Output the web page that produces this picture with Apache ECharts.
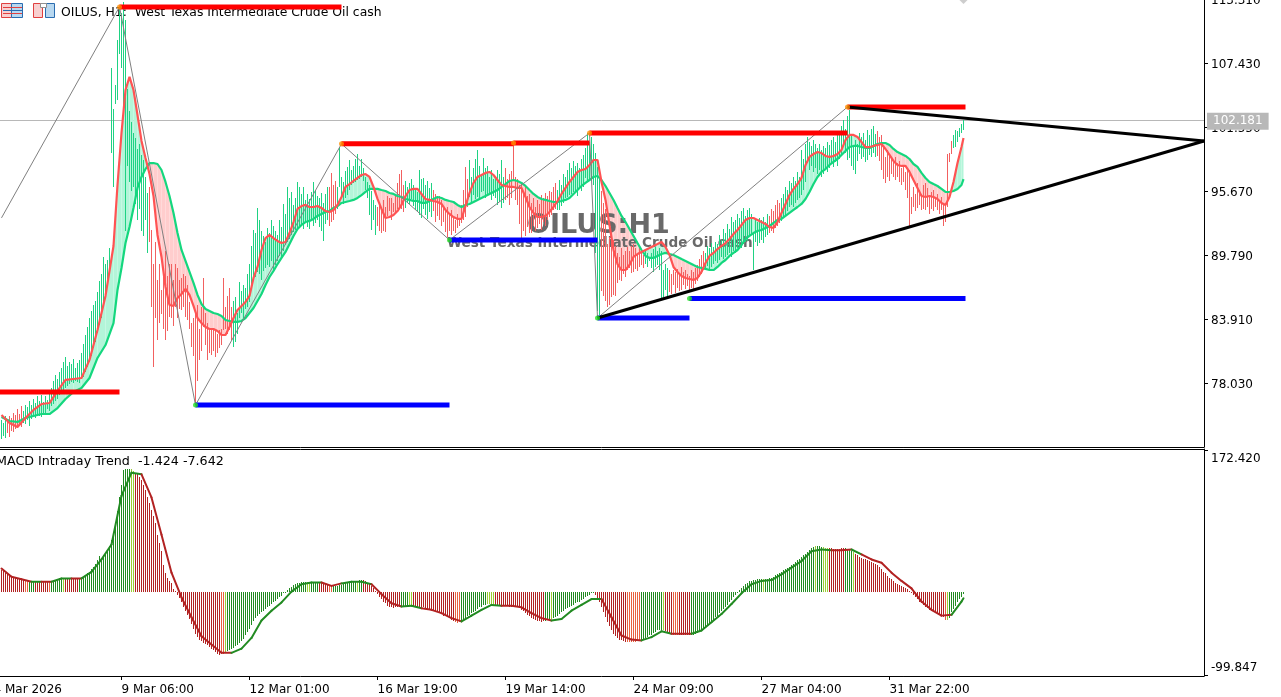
<!DOCTYPE html>
<html><head><meta charset="utf-8"><title>OILUS H1</title>
<style>html,body{margin:0;padding:0;background:#fff}#c{width:1281px;height:697px}</style>
<script src="https://cdn.jsdelivr.net/npm/echarts@6/dist/echarts.min.js"></script></head>
<body><div id="c"></div>
<script>
const priceTicks=[78.03,83.91,89.79,95.67,101.55,107.43,113.31];
const priceLabelAnchors=[77.85,83.73,89.61,95.49,101.37,107.25,113.13];
const macdTicks=[-99.847,172.42];
const macdLabelAnchors=[-91.6,161.5];
const timeTickBars=[-4,60,124,188,252,316,380,444];
const timeTickLabels=['4 Mar 2026','9 Mar 06:00','12 Mar 01:00','16 Mar 19:00','19 Mar 14:00','24 Mar 09:00','27 Mar 04:00','31 Mar 22:00'];
const lastPrice=102.181;
const fastMA=[75.09,74.36,73.99,74.82,75.55,76.10,76.19,77.30,78.31,78.40,78.49,80.15,82.90,86.03,90.62,
96.22,101.00,104.95,106.15,104.95,102.65,100.27,98.70,97.23,95.21,91.63,89.61,86.85,85.20,85.11,85.84,86.21,86.67,86.12,85.11,84.00,83.54,83.18,82.99,82.99,
82.81,82.44,82.44,83.18,84.00,84.74,85.11,85.47,86.03,87.68,88.69,90.25,91.35,91.63,91.35,91.08,90.89,90.99,91.81,92.82,94.02,94.29,94.39,94.20,94.20,
94.29,94.11,93.83,93.74,93.93,94.39,95.12,96.04,96.31,96.59,96.87,97.14,97.23,96.96,96.04,94.94,94.02,93.19,93.28,93.47,93.83,94.39,95.21,95.76,95.86,
95.86,95.40,94.94,94.85,94.75,94.66,94.48,93.93,93.56,93.28,93.10,93.10,94.29,95.49,96.41,96.96,97.14,97.33,97.42,97.14,96.68,96.22,96.13,96.04,96.04,
95.95,95.95,95.12,94.20,93.65,93.28,93.28,93.38,93.74,94.20,94.75,95.40,95.95,96.50,96.96,97.42,97.60,97.69,98.06,98.52,98.52,96.50,94.85,92.55,90.25,
88.96,88.41,88.41,88.87,89.61,89.88,90.07,90.25,90.43,90.62,90.80,90.99,90.53,89.79,88.69,88.23,87.86,87.68,87.59,87.50,87.68,88.23,89.06,89.70,89.98,
90.34,90.62,90.89,91.26,91.72,92.09,92.55,93.01,93.19,93.19,93.01,92.82,92.64,92.36,92.27,92.82,93.65,94.48,95.30,95.86,96.31,96.87,98.06,98.80,99.07,
99.25,99.16,98.89,98.80,98.89,99.07,99.44,100.36,100.82,100.82,100.63,100.17,99.71,99.71,99.81,99.90,99.99,99.53,98.98,98.43,98.06,97.97,97.97,97.42,96.68,
95.95,95.21,95.12,95.21,95.12,94.94,94.57,94.39,95.12,96.50,98.24,99.71,100.54];
const slowMA=[74.91,74.54,74.45,74.82,75.00,75.18,75.18,75.73,76.56,77.20,77.57,78.49,80.33,81.52,83.54,
86.58,88.60,90.89,92.36,94.11,95.95,96.96,97.69,98.24,98.24,98.15,97.60,96.50,95.21,93.65,91.81,90.25,89.24,88.23,87.22,86.12,85.29,84.83,84.65,84.46,
84.37,84.19,83.82,83.73,83.64,83.64,83.73,84.00,84.46,84.92,85.57,86.21,87.04,87.77,88.32,88.96,89.52,90.07,90.80,91.54,92.18,92.55,92.82,92.92,93.10,
93.38,93.56,93.74,93.83,94.11,94.29,94.57,94.66,94.75,94.85,95.03,95.30,95.58,95.86,95.86,95.86,95.76,95.67,95.49,95.40,95.21,95.12,94.94,94.85,94.75,
94.75,94.57,94.57,94.75,94.94,95.12,95.03,94.85,94.75,94.66,94.39,94.20,94.39,94.48,94.66,94.85,95.03,95.21,95.40,95.58,95.76,96.04,96.31,96.59,96.68,
96.59,96.41,96.13,95.76,95.40,95.12,94.94,94.85,94.75,94.66,94.66,94.75,94.85,95.03,95.40,95.76,96.13,96.41,96.68,96.96,97.05,96.68,96.13,95.49,94.85,
94.11,93.38,92.82,92.18,91.54,90.89,90.25,89.70,89.52,89.52,89.70,89.88,89.98,89.88,89.79,89.61,89.42,89.24,89.06,88.87,88.69,88.60,88.51,88.41,88.41,
88.69,89.06,89.33,89.70,89.98,90.25,90.71,91.26,91.54,91.81,92.00,92.09,92.27,92.46,92.73,93.01,93.10,93.38,93.65,93.93,94.20,94.48,94.94,95.58,96.31,
96.96,97.42,97.69,98.06,98.34,98.61,98.98,99.35,99.71,99.81,99.81,99.71,99.62,99.62,99.81,99.99,100.08,100.08,99.90,99.53,99.25,99.07,98.89,98.61,98.15,
97.88,97.33,96.87,96.50,96.31,96.13,95.86,95.58,95.58,95.67,95.86,96.22,96.77];
const barHigh=[74.6,74.4,75.0,74.6,75.0,74.8,75.3,75.1,75.6,75.2,75.9,75.5,76.0,75.8,76.4,76.0,76.6,76.2,76.8,76.4,76.9,76.3,76.8,76.5,77.0,
77.6,78.2,78.8,78.4,79.0,79.4,80.0,80.4,79.6,80.0,79.8,80.2,79.4,79.9,80.1,80.8,81.6,82.4,83.2,84.0,84.6,85.2,85.6,86.4,87.4,
88.0,89.6,89.0,89.3,90.4,107.0,103.2,105.4,109.5,112.4,112.0,113.0,111.4,105.0,103.0,102.0,101.0,100.5,99.5,100.0,99.0,98.5,97.0,95.5,96.0,
92.1,89.0,91.0,87.5,89.0,86.6,88.5,90.2,87.9,89.0,89.0,87.5,89.0,88.6,87.5,87.7,88.0,87.9,87.0,85.5,83.5,84.0,84.7,85.2,83.0,
85.0,87.7,84.5,83.5,82.9,83.0,82.9,83.0,82.5,82.9,83.0,87.7,85.0,86.0,86.8,85.0,85.6,85.9,84.5,87.3,86.5,87.0,86.8,88.0,89.0,
90.6,92.1,91.8,94.1,93.0,92.0,91.5,91.0,92.3,91.8,93.0,92.5,92.0,91.6,93.0,92.4,94.5,93.6,96.0,95.0,95.6,94.4,95.0,96.5,96.0,
95.4,96.0,94.8,95.4,94.9,95.6,96.5,95.8,95.2,95.0,95.5,94.6,95.4,96.0,96.0,97.3,96.2,96.6,96.0,99.7,97.0,96.5,97.5,97.9,98.5,
97.6,98.0,98.6,99.1,98.0,98.6,97.8,97.0,96.5,96.2,95.7,94.8,94.4,94.2,94.6,94.0,94.8,94.2,95.2,95.0,95.0,94.6,95.2,96.4,97.2,
97.6,96.2,96.6,96.0,96.4,96.8,96.2,95.8,95.6,97.6,96.8,96.9,96.2,96.6,95.9,96.4,95.8,95.4,95.0,95.2,94.8,94.2,93.8,94.2,93.6,
93.9,93.4,93.0,93.6,93.2,94.4,95.8,97.9,96.8,98.5,97.0,97.8,98.6,99.4,98.0,97.2,98.7,97.8,98.0,97.0,97.6,96.8,97.0,97.6,97.2,
98.5,97.0,97.8,96.8,97.2,97.5,100.1,97.0,96.8,96.2,96.4,95.6,96.0,95.2,95.4,94.6,95.0,94.2,94.8,94.5,95.3,95.0,95.5,95.2,95.7,
95.6,96.0,96.4,95.8,96.7,96.2,97.2,97.0,97.6,98.2,97.8,98.4,98.0,98.2,97.8,98.6,99.0,99.6,101.0,100.2,100.6,100.0,99.2,97.9,97.0,
95.7,94.6,94.0,90.8,91.4,91.0,91.2,90.6,90.0,89.6,90.4,89.8,90.2,90.5,90.2,90.6,90.8,90.4,90.0,90.6,90.2,89.8,90.3,90.0,89.6,
90.0,90.3,90.5,90.2,90.4,90.2,88.4,89.0,88.6,88.4,88.0,88.4,88.2,88.5,88.0,88.7,88.2,88.4,88.0,87.9,88.4,88.2,88.6,88.9,89.4,
89.8,90.2,90.0,90.6,90.4,90.9,90.5,91.0,90.8,91.6,91.2,92.2,91.8,92.6,92.2,93.3,92.8,93.0,93.6,93.2,93.8,94.1,93.4,93.9,94.1,
93.6,91.8,93.0,92.8,93.2,93.0,93.3,92.8,93.6,93.4,94.0,93.8,94.4,94.8,94.6,95.0,95.4,96.0,95.8,96.6,96.4,97.0,96.6,97.4,97.0,
99.4,98.6,100.0,100.6,100.2,99.8,100.4,100.0,99.6,100.0,99.4,99.8,99.6,100.2,99.9,100.4,100.6,100.2,100.8,101.2,101.6,102.2,101.4,102.6,103.1,
100.8,99.7,100.4,100.0,101.0,100.6,101.0,100.4,101.3,100.8,101.4,101.6,100.9,101.2,100.6,100.8,99.8,98.8,99.4,99.0,98.6,98.5,98.8,98.2,98.4,
97.8,98.0,97.4,97.6,97.6,95.1,96.0,95.4,96.4,95.8,95.4,96.2,96.4,95.9,95.2,95.6,95.8,95.1,95.4,94.8,95.1,94.4,94.6,99.1,99.2,
100.3,100.8,101.3,101.2,101.5,101.8,102.2];
const barLow=[72.9,73.2,73.0,73.4,73.1,73.6,73.5,73.8,73.9,74.2,74.0,74.4,74.3,74.6,74.1,74.7,75.0,74.8,75.2,75.0,74.9,75.3,75.2,75.6,75.5,
75.9,76.1,76.4,76.6,76.9,77.1,77.3,77.6,77.8,77.9,78.1,78.0,78.2,78.1,78.0,78.4,78.6,79.0,79.5,80.0,80.5,81.2,81.8,82.6,83.4,
84.0,85.0,86.0,87.0,88.0,99.2,96.0,103.7,104.0,108.3,107.0,103.0,92.0,98.0,96.5,95.7,96.0,94.5,93.0,94.0,92.0,91.5,93.0,90.0,91.0,
85.0,79.5,84.0,82.0,83.5,84.4,83.0,82.0,82.8,84.1,84.0,83.3,85.0,84.0,84.8,84.7,85.0,84.1,83.8,83.0,81.3,80.5,76.2,78.2,80.1,
81.0,83.2,81.5,80.1,80.8,80.6,81.0,80.4,80.8,81.2,81.5,82.9,83.0,82.5,82.9,82.0,81.3,81.8,82.5,84.0,84.5,84.0,84.8,85.0,85.5,
87.0,87.4,87.8,88.2,88.0,87.5,88.3,88.6,88.9,88.7,89.2,88.4,88.9,89.2,89.7,89.4,90.2,90.7,91.0,91.3,91.6,91.9,92.1,92.3,92.5,
92.6,92.2,92.8,92.4,92.2,92.9,92.5,92.7,93.0,92.4,92.0,91.1,92.6,93.0,92.5,92.8,93.0,93.6,94.0,96.0,95.0,94.5,95.0,95.3,95.8,
96.2,96.4,96.5,96.7,96.8,97.0,96.6,95.8,95.0,93.5,92.1,93.0,91.6,92.5,92.0,91.8,92.0,91.9,93.4,93.8,93.0,93.7,93.6,94.0,94.2,
94.0,93.7,94.1,94.6,94.5,94.9,94.3,93.9,93.8,93.5,93.2,94.0,93.5,93.1,93.7,93.3,93.8,92.8,93.4,93.0,92.5,92.8,91.9,91.4,92.0,
91.6,92.0,91.8,92.3,92.5,92.7,93.0,93.3,94.2,95.1,94.6,95.3,94.9,95.1,95.0,95.6,95.7,95.0,95.3,95.5,94.8,95.2,95.0,94.4,94.7,
94.1,94.6,94.8,95.0,94.4,95.0,96.6,94.8,94.4,92.6,91.1,92.0,91.5,92.4,91.8,91.8,92.5,92.0,92.3,92.6,92.1,92.8,92.5,93.0,93.3,
93.5,93.9,94.0,93.9,93.9,94.3,94.6,95.0,95.1,95.3,95.4,95.6,95.5,95.2,95.9,95.7,96.0,96.9,96.5,96.8,96.6,96.2,90.0,84.6,84.3,
86.5,86.0,85.6,85.0,85.2,85.9,86.1,86.0,87.2,87.5,87.4,88.0,87.8,88.4,88.6,88.1,88.2,88.5,88.3,88.7,88.9,88.6,89.0,88.7,89.2,
88.6,88.2,88.7,88.9,88.4,85.8,85.9,86.6,86.0,86.4,86.2,87.0,86.3,86.8,86.5,86.6,87.0,86.7,86.9,86.6,86.8,86.6,87.1,87.4,87.8,
88.0,88.4,88.6,88.8,88.5,88.7,89.0,89.2,89.1,89.3,89.6,89.4,89.6,89.8,90.0,89.6,90.2,90.0,90.4,90.6,90.4,90.8,91.0,91.1,91.4,
91.6,88.4,91.0,90.6,90.9,91.2,90.9,91.4,91.6,91.8,92.0,91.8,92.3,92.5,92.7,92.9,93.2,93.5,93.8,94.2,94.4,94.2,94.6,94.8,95.0,
95.3,95.8,96.5,98.2,97.6,98.0,97.4,97.8,97.2,97.6,97.0,97.2,97.6,97.4,97.8,98.2,97.9,98.3,98.0,98.6,99.0,99.7,99.2,98.5,98.7,
98.0,97.6,97.2,98.4,99.1,98.6,98.8,98.3,98.5,99.0,98.8,99.2,98.8,98.9,98.4,97.6,96.8,96.4,97.0,96.6,97.2,97.0,96.7,97.0,96.5,
96.2,96.5,95.8,95.0,92.5,93.6,94.2,93.8,94.1,94.4,93.9,94.0,93.9,94.2,93.6,94.0,93.8,94.2,93.9,93.6,93.9,92.5,92.8,94.2,98.3,
99.1,99.6,99.7,100.2,100.6,101.0,101.3];
const macdHist=[27,26,24,23,22,20,19,18,17,16,16,15,15,14,14,14,13,13,13,14,14,14,13,13,13,
14,14,15,16,17,18,18,18,17,17,17,17,17,17,17,18,19,21,23,25,28,31,35,39,44,
42,45,48,52,56,63,72,85,98,115,130,148,149,149,149,149,147,145,143,140,136,130,124,116,108,
100,92,84,70,60,50,33,24,18,14,11,4,2,-3,-7,-12,-17,-22,-27,-32,-38,-44,-50,-54,-57,
-59,-61,-62,-64,-66,-68,-70,-72,-75,-76,-75,-74,-72,-71,-70,-68,-67,-65,-63,-61,-59,-56,-52,-48,-44,
-39,-35,-31,-28,-26,-24,-22,-20,-18,-16,-14,-12,-10,-8,-6,-4,-1,1,3,5,7,9,10,11,12,
13,13,13,13,13,13,13,13,12,12,12,12,11,10,9,9,8,8,8,9,9,10,11,11,12,
13,13,14,14,15,15,15,14,12,10,8,5,2,-2,-5,-8,-11,-13,-16,-17,-18,-19,-18,-18,-17,
-17,-16,-16,-16,-16,-16,-16,-16,-17,-17,-18,-18,-19,-20,-20,-21,-21,-22,-23,-24,-26,-28,-29,-30,-31,
-33,-34,-36,-37,-36,-35,-33,-31,-29,-27,-25,-24,-22,-20,-18,-17,-15,-15,-14,-14,-15,-15,-15,-16,-16,
-16,-16,-16,-16,-17,-17,-17,-18,-18,-19,-21,-23,-25,-27,-29,-31,-32,-33,-34,-35,-36,-35,-34,-33,-33,
-32,-31,-30,-28,-26,-24,-22,-20,-19,-17,-16,-15,-13,-12,-11,-9,-8,-6,-4,-3,-1,-1,-3,-7,-12,
-18,-24,-30,-36,-41,-46,-50,-53,-55,-57,-58,-59,-60,-60,-60,-60,-60,-60,-59,-58,-57,-56,-55,-54,-52,
-51,-49,-48,-46,-45,-45,-46,-47,-48,-49,-50,-51,-52,-52,-52,-52,-52,-52,-52,-52,-52,-51,-50,-49,-48,
-46,-44,-42,-40,-37,-35,-33,-30,-28,-25,-23,-20,-17,-15,-12,-9,-6,-3,0,3,6,8,10,12,14,
14,15,15,16,16,16,16,16,16,17,18,19,21,22,23,25,27,28,30,31,33,35,37,39,41,
43,45,47,49,52,54,55,56,56,56,55,55,54,54,54,54,53,53,53,53,54,54,54,53,52,
50,49,47,45,43,42,41,40,39,38,37,36,35,33,31,28,25,23,20,18,16,14,12,10,9,
8,7,6,4,2,0,-3,-5,-8,-11,-13,-15,-17,-19,-21,-22,-24,-25,-26,-27,-28,-30,-33,-33,-31,
-24,-20,-16,-12,-8,-5,-2];
const macdLine=[29,19,16,13,13,13,17,17,17,25,40,58,117,145,143,115,70,24,-6,-30,
-53,-63,-73,-73,-68,-55,-34,-22,-12,1,10,12,12,8,11,13,13,10,-2,-13,
-17,-16,-19,-21,-25,-31,-35,-28,-21,-15,-16,-16,-18,-25,-31,-34,-32,-22,-15,-8,
-8,-30,-52,-57,-58,-54,-47,-50,-50,-50,-46,-36,-26,-14,-1,10,14,15,22,30,
38,50,52,51,51,52,46,40,36,24,14,5,-11,-21,-28,-27,-11,-7];
const histRunStart=[0,12,14,17,24,25,31,32,39,65,67,110,112,113,153,155,159,164,166,178,179,181,200,204,206,227,230,243,247,272,275,276,297,313,320,331,332,336,339,345,381,382,407,408,411,414,422,426,427,472,473,474];
const histRunKind='RSGRSGYRGYRSYGYGRSGYGRGYRSGYRGYGRSGYRSRGYGYGYRGYRSYG'.split('');
const zigzagBars=[0,59,97,170,224,294,298,423];
const zigzagPrices=[93.2,112.6,76.0,100.0,91.17,101.0,84.0,103.39];
const resistance=[[-4,59,77.2],[59,170,112.58],[170,256,100.0],[256,294,100.08],[294,423,101.0],[423,482,103.39]];
const support=[[97,224,76.0],[224,298,91.17],[298,344,84.0],[344,482,85.8]];
const trendLines=[[423,103.39,601.25,100.26],[298,84.0,601.25,100.26]];
const peakDots=[[59,112.58],[170,100.0],[256,100.08],[294,101.0],[423,103.39]];
const troughDots=[[97,76.0],[224,91.17],[298,84.0],[344,85.8]];

const FONT='"DejaVu Sans"';
const maBars=[];for(let b=0;b<56;b+=4)maBars.push(b);for(let b=56;b<=480;b+=2)maBars.push(b);maBars.push(481);
const macdBars=[];for(let b=0;b<=480;b+=5)macdBars.push(b);macdBars.push(481);
const histPalette={R:'#b22222',S:'#e9603f',G:'#228b22',Y:'#9acd32'};
const kindAt=b=>{let k='R';for(let i=0;i<histRunStart.length;i++){if(histRunStart[i]<=b)k=histRunKind[i];else break;}return k;};
const lineColor=b=>{const k=kindAt(b);return (k==='G'||k==='Y')?'#228b22':'#b22222';};
const GREEN='#14d77e',RED='#ff5353',STICK_G='#1fd283',STICK_R='#f26060',FILL_G='#b3f5d9',FILL_R='#ffcdcd';
const upAt=b=>{let best=0,d=1e9;maBars.forEach((m,i)=>{const e=Math.abs(m-b);if(e<d){d=e;best=i;}});return fastMA[best]>=slowMA[best];};

const chart=echarts.init(document.getElementById('c'),null,{renderer:'canvas',width:1281,height:697});
const hLine=(seg,color,w,z)=>({type:'line',xAxisIndex:0,yAxisIndex:0,data:[[seg[0],seg[2]],[seg[1],seg[2]]],showSymbol:false,silent:true,animation:false,z,lineStyle:{color,width:w,cap:'butt'}});
const poly=(api,pts,color)=>({type:'polygon',shape:{points:pts},style:{fill:color},silent:true});
const stick=(x,y1,y2,color)=>{const cx=Math.round(x-0.5)+0.5,top=Math.round(Math.min(y1,y2)),bot=Math.round(Math.max(y1,y2));
 return {type:'line',shape:{x1:cx,y1:top,x2:cx,y2:Math.max(bot,top+1)},style:{stroke:color,fill:null,lineWidth:1,lineCap:'butt'},silent:true};};
const series=[
{type:'custom',xAxisIndex:0,yAxisIndex:0,z:2,silent:true,animation:false,clip:true,data:maBars.slice(0,-1).map((b,i)=>[b,i]),
 renderItem(p,api){const k=api.value(1);const b0=maBars[k],b1=maBars[k+1];const f0=fastMA[k],f1=fastMA[k+1],s0=slowMA[k],s1=slowMA[k+1];
  const c=(b,v)=>api.coord([b,v]);const d0=f0-s0,d1=f1-s1;const col=d=>d>=0?FILL_G:FILL_R;
  if(d0*d1>=0)return poly(api,[c(b0,f0),c(b1,f1),c(b1,s1),c(b0,s0)],col(d0+d1));
  const t=d0/(d0-d1),bx=b0+t*(b1-b0),vx=f0+t*(f1-f0);
  return {type:'group',children:[poly(api,[c(b0,f0),c(bx,vx),c(b0,s0)],col(d0)),poly(api,[c(bx,vx),c(b1,f1),c(b1,s1)],col(d1))]};}},
{type:'custom',xAxisIndex:0,yAxisIndex:0,z:3,silent:true,animation:false,data:barHigh.map((h,i)=>[i,h,barLow[i]]),
 renderItem(p,api){const a=api.coord([api.value(0),api.value(1)]),b=api.coord([api.value(0),api.value(2)]);
  return stick(a[0],a[1],b[1],upAt(api.value(0))?STICK_G:STICK_R);}},
{type:'line',xAxisIndex:0,yAxisIndex:0,z:4,data:maBars.map((b,i)=>[b,slowMA[i]]),showSymbol:false,silent:true,animation:false,lineStyle:{color:GREEN,width:2.2}},
{type:'line',xAxisIndex:0,yAxisIndex:0,z:5,data:maBars.map((b,i)=>[b,fastMA[i]]),showSymbol:false,silent:true,animation:false,lineStyle:{color:RED,width:2.2}},
{type:'line',xAxisIndex:0,yAxisIndex:0,z:6,data:zigzagBars.map((b,i)=>[b,zigzagPrices[i]]),showSymbol:false,silent:true,animation:false,lineStyle:{color:'#808080',width:1},
 markLine:{silent:true,symbol:'none',animation:false,z:1,lineStyle:{color:'#b8b8b8',width:1,type:'solid'},data:[{yAxis:lastPrice}],
  label:{position:'end',formatter:()=>lastPrice.toFixed(3),distance:3,offset:[0,1],color:'#fff',backgroundColor:'#b8b8b8',padding:[3,6,2,6],fontFamily:FONT,fontSize:12}}},
...resistance.map(s=>hLine(s,'#ff0000',5,7)),
...support.map(s=>hLine(s,'#0000ff',5,7)),
...trendLines.map(t=>({type:'line',xAxisIndex:0,yAxisIndex:0,z:8,data:[[t[0],t[1]],[t[2],t[3]]],showSymbol:false,silent:true,animation:false,lineStyle:{color:'#000',width:3}})),
{type:'scatter',xAxisIndex:0,yAxisIndex:0,z:9,data:peakDots,symbol:'circle',symbolSize:5,silent:true,animation:false,itemStyle:{color:'#ff8c00'}},
{type:'scatter',xAxisIndex:0,yAxisIndex:0,z:9,data:troughDots,symbol:'circle',symbolSize:5,silent:true,animation:false,itemStyle:{color:'#22dd22'}},
{type:'scatter',xAxisIndex:0,yAxisIndex:0,z:9,data:[[481,113.31]],symbol:'diamond',symbolSize:10,silent:true,animation:false,itemStyle:{color:'#c0c0c0'}},
{type:'custom',xAxisIndex:1,yAxisIndex:1,z:3,silent:true,animation:false,data:macdHist.map((v,i)=>[i,v]),
 renderItem(p,api){const i=api.value(0);const a=api.coord([i,0]),b=api.coord([i,api.value(1)]);
  return stick(a[0],a[1],b[1],histPalette[kindAt(i)]);}},
{type:'custom',xAxisIndex:1,yAxisIndex:1,z:4,silent:true,animation:false,data:macdBars.slice(0,-1).map((b,i)=>[b,i]),
 renderItem(p,api){const k=api.value(1);const a=api.coord([macdBars[k],macdLine[k]]),b=api.coord([macdBars[k+1],macdLine[k+1]]);
  return {type:'line',shape:{x1:a[0],y1:a[1],x2:b[0],y2:b[1]},style:{stroke:lineColor(macdBars[k]),lineWidth:2,lineCap:'round'},silent:true};}}
];
const axisLine={show:true,onZero:false,lineStyle:{color:'#000',width:1}};
const tickText={color:'#000',fontFamily:FONT,fontSize:12};
chart.setOption({
 animation:false,backgroundColor:'#fff',
 grid:[{left:-8,top:-1,width:1212,height:448,containLabel:false,outerBoundsMode:'none'},{left:-8,top:449,width:1212,height:227,containLabel:false,outerBoundsMode:'none'}],
 xAxis:[
  {type:'value',gridIndex:0,min:-4.75,max:601.25,position:'bottom',axisLine,axisTick:{show:false},axisLabel:{show:false},splitLine:{show:false}},
  {type:'value',gridIndex:1,min:-4.75,max:601.25,position:'bottom',axisLine,splitLine:{show:false},
   axisTick:{show:true,length:4,lineStyle:{color:'#000'},customValues:timeTickBars},
   axisLabel:{...tickText,align:'left',margin:8,customValues:timeTickBars,showMinLabel:true,showMaxLabel:true,hideOverlap:false,formatter:v=>timeTickLabels[timeTickBars.indexOf(v)]||''}},
  {type:'value',gridIndex:1,min:-4.75,max:601.25,position:'top',axisLine,axisTick:{show:false},axisLabel:{show:false},splitLine:{show:false}}
 ],
 yAxis:[
  {type:'value',gridIndex:0,min:72.15,max:113.31,position:'right',axisLine,splitLine:{show:false},
   axisTick:{show:true,length:4,lineStyle:{color:'#000'},customValues:priceTicks},
   axisLabel:{...tickText,margin:7,customValues:priceLabelAnchors,formatter:v=>priceTicks[priceLabelAnchors.indexOf(v)].toFixed(3)}},
  {type:'value',gridIndex:1,min:-101.06,max:173.63,position:'right',axisLine,splitLine:{show:false},
   axisTick:{show:true,length:4,lineStyle:{color:'#000'},customValues:macdTicks},
   axisLabel:{...tickText,margin:7,customValues:macdLabelAnchors,formatter:v=>macdTicks[macdLabelAnchors.indexOf(v)].toFixed(3)}}
 ],
 graphic:[
  {type:'text',z:0,left:61,top:7,style:{text:'OILUS, H1:  West Texas Intermediate Crude Oil cash',font:'12.4px '+FONT,fill:'#000'}},
  {type:'text',z:0,left:-4,top:455,style:{text:'MACD Intraday Trend  -1.424 -7.642',font:'12.7px '+FONT,fill:'#000'}},
  {type:'text',z:3,left:527,top:212,style:{text:'OILUS:H1',font:'bold 27px '+FONT,fill:'#696969'}},
  {type:'text',z:3,left:447,top:236,style:{text:'West Texas Intermediate Crude Oil cash',font:'bold 13.6px '+FONT,fill:'#696969'}},
  {type:'rect',z:0,shape:{x:1.5,y:3.5,width:10,height:14},style:{fill:'#f8d0d0',stroke:'#e04040'}},
  {type:'rect',z:0,shape:{x:11.5,y:3.5,width:11,height:14},style:{fill:'#b8d8f0',stroke:'#2a6cb0'}},
  {type:'rect',z:0,shape:{x:3,y:7,width:19,height:1},style:{fill:'#e04040'}},
  {type:'rect',z:0,shape:{x:3,y:10,width:19,height:1},style:{fill:'#2a6cb0'}},
  {type:'rect',z:0,shape:{x:3,y:13,width:19,height:1},style:{fill:'#e04040'}},
  {type:'rect',z:0,shape:{x:33.5,y:3.5,width:9,height:14},style:{fill:'#f8d0d0',stroke:'#e04040'}},
  {type:'rect',z:0,shape:{x:45.5,y:3.5,width:9,height:14},style:{fill:'#b8d8f0',stroke:'#2a6cb0'}},
  {type:'rect',z:0,shape:{x:40.5,y:3.5,width:6,height:4},style:{fill:'#fff',stroke:'#909090'}}
 ],
 series
});
</script></body></html>
